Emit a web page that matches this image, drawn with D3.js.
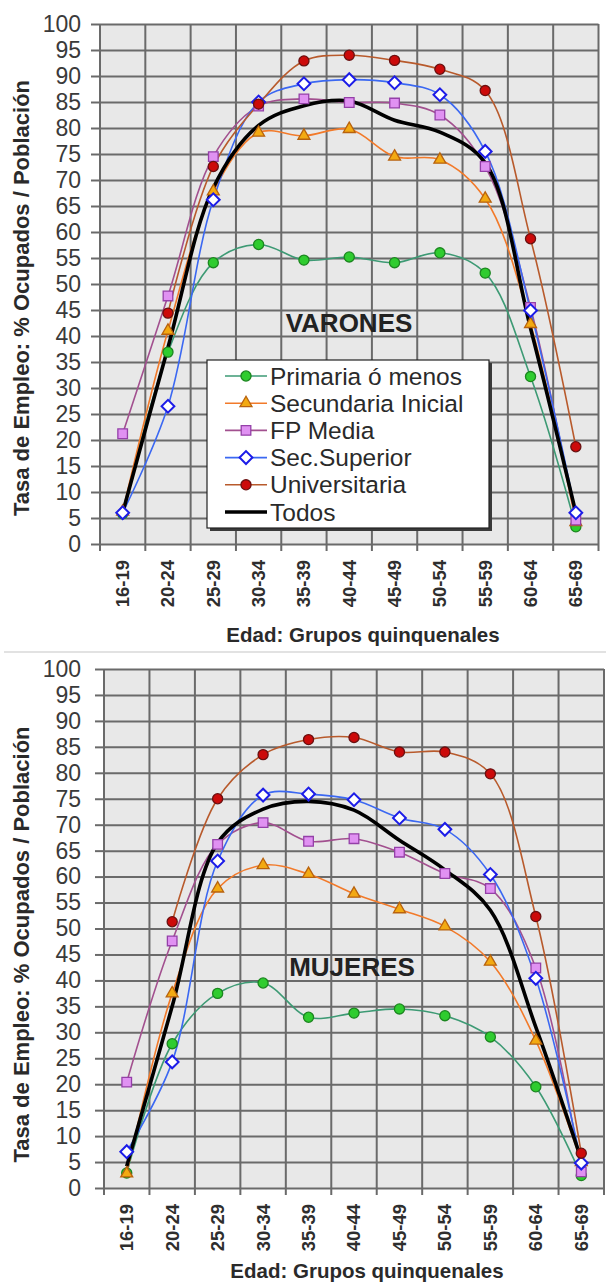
<!DOCTYPE html>
<html>
<head>
<meta charset="utf-8">
<script src="https://cdn.jsdelivr.net/npm/d3@7"></script>
<style>
    body { margin: 0; background: #fff; }
    svg { display: block; font-family: "Liberation Sans", Arial, sans-serif; }
</style>
</head>
<body>
<div id="chart"></div>
<script>

// categorias y valores
const edades = ["16-19", "20-24", "25-29", "30-34", "35-39", "40-44", "45-49", "50-54", "55-59", "60-64", "65-69"];
const yTicks = d3.range(0, 101, 5);
const leyenda = ["Primaria ó menos", "Secundaria Inicial", "FP Media", "Sec.Superior", "Universitaria", "Todos"];

// varones (Universitaria no tiene dato a los 16-19)
const varPrimaria   = [5.8, 36.9, 54.1, 57.6, 54.6, 55.2, 54.1, 56.0, 52.1, 32.2, 3.3];
const varSecundaria = [6.2, 41.0, 67.8, 79.1, 78.5, 79.8, 74.5, 73.9, 66.4, 42.3, 4.2];
const varFP         = [21.2, 47.7, 74.5, 84.2, 85.6, 84.9, 84.8, 82.5, 72.6, 45.5, 4.6];
const varSecSup     = [6.0, 26.5, 66.2, 85.0, 88.5, 89.3, 88.7, 86.4, 75.5, 44.9, 6.0];
const varUniv       = [null, 44.4, 72.6, 84.6, 92.9, 94.0, 93.0, 91.3, 87.2, 58.7, 18.7];
const varTodos      = [6.0, 37.8, 68.5, 80.5, 84.3, 85.2, 81.5, 79.2, 73.3, 41.5, 6.0];

// mujeres
const mujPrimaria   = [2.9, 27.8, 37.5, 39.5, 32.9, 33.7, 34.5, 33.2, 29.1, 19.5, 2.4];
const mujSecundaria = [2.8, 37.5, 57.7, 62.2, 60.5, 56.7, 53.7, 50.4, 43.6, 28.4, 5.0];
const mujFP         = [20.4, 47.6, 66.2, 70.4, 66.8, 67.3, 64.7, 60.6, 57.7, 42.4, 3.1];
const mujSecSup     = [7.0, 24.3, 63.0, 75.7, 75.9, 74.8, 71.3, 69.1, 60.4, 40.4, 4.8];
const mujUniv       = [null, 51.3, 75.0, 83.5, 86.4, 86.8, 84.0, 84.0, 79.8, 52.3, 6.7];
const mujTodos      = [4.2, 35.0, 66.5, 73.0, 74.5, 72.8, 67.0, 61.3, 53.5, 31.0, 5.5];

// estilo de cada serie (mismo orden que la leyenda)
const estilos = [
    {line: "#3d9a74", fill: "#2fcc2f", stroke: "#1b861f", shape: "circle"},
    {line: "#f27a2a", fill: "#f3aa12", stroke: "#b8620e", shape: "triangle"},
    {line: "#a2508f", fill: "#e091f2", stroke: "#9440a8", shape: "square"},
    {line: "#3b68f2", fill: "#ffffff", stroke: "#1c1ce8", shape: "diamond"},
    {line: "#b85a2c", fill: "#cc0a0a", stroke: "#6a1010", shape: "circle"},
    {line: "#000000", fill: "none",    stroke: "none",    shape: "none"}
];


class EmpleoChart {

    constructor(svg, cfg, series) {
        this.svg = svg;
        this.cfg = cfg;
        this.series = series;

        this.initVis();
    }

    initVis() {
        let vis = this;
        let c = vis.cfg;

        vis.g = vis.svg.append("g");

        vis.x = d3.scaleBand()
            .domain(edades)
            .range([c.left, c.right]);

        vis.y = d3.scaleLinear()
            .domain([0, 100])
            .range([c.bottom, c.top]);

        // fondo del area de trazado
        vis.g.append("rect")
            .attr("x", c.left)
            .attr("y", c.top)
            .attr("width", c.right - c.left)
            .attr("height", c.bottom - c.top)
            .attr("fill", "#e8e8e8");

        // rejilla horizontal
        vis.g.append("g")
            .attr("class", "grid")
            .attr("transform", `translate(${c.left},0)`)
            .call(d3.axisLeft(vis.y).tickValues(yTicks).tickSize(-(c.right - c.left)).tickFormat(""))
            .call(g => g.select(".domain").remove())
            .selectAll("line")
            .attr("stroke", "#6a6a6a")
            .attr("stroke-width", 2);

        // rejilla vertical en los limites de cada grupo
        let bordes = edades.map(d => vis.x(d)).concat([c.right]);
        vis.g.append("g")
            .selectAll("line")
            .data(bordes)
            .enter().append("line")
            .attr("x1", d => d).attr("x2", d => d)
            .attr("y1", c.top).attr("y2", c.bottom + 7)
            .attr("stroke", "#6a6a6a")
            .attr("stroke-width", 2);

        // eje y
        vis.g.append("g")
            .attr("class", "y-axis")
            .attr("transform", `translate(${c.left},0)`)
            .call(d3.axisLeft(vis.y).tickValues(yTicks).tickSize(9).tickPadding(c.left - 9 - 81))
            .call(g => g.select(".domain").remove())
            .call(g => g.selectAll("line").attr("stroke", "#6a6a6a").attr("stroke-width", 2))
            .selectAll("text")
            .attr("font-size", 23)
            .attr("fill", "#3a3a3a");

        // etiquetas del eje x, giradas
        vis.g.append("g")
            .selectAll("text")
            .data(edades)
            .enter().append("text")
            .attr("transform", d => `translate(${vis.x(d) + vis.x.bandwidth() / 2},${c.bottom + 16}) rotate(-90)`)
            .attr("dy", "0.35em")
            .attr("text-anchor", "end")
            .attr("font-size", 18.5)
            .attr("font-weight", "bold")
            .attr("fill", "#2e2e2e")
            .text(d => d);

        // titulos de los ejes
        vis.g.append("text")
            .attr("transform", `translate(${c.yTitleX},${c.yTitleY}) rotate(-90)`)
            .attr("dy", "0.35em")
            .attr("text-anchor", "middle")
            .attr("font-size", 22)
            .attr("font-weight", "bold")
            .attr("fill", "#2a2a2a")
            .text("Tasa de Empleo: % Ocupados / Población");

        vis.g.append("text")
            .attr("x", c.xTitleX)
            .attr("y", c.xTitleY)
            .attr("text-anchor", "middle")
            .attr("font-size", 20.5)
            .attr("font-weight", "bold")
            .attr("fill", "#2a2a2a")
            .text("Edad: Grupos quinquenales");

        // rotulo VARONES / MUJERES
        vis.g.append("text")
            .attr("x", c.labelX)
            .attr("y", vis.y(c.labelValue))
            .attr("dy", "0.35em")
            .attr("text-anchor", "middle")
            .attr("font-size", 26)
            .attr("font-weight", "bold")
            .attr("fill", "#222")
            .text(c.label);

        vis.updateVis();
    }

    symbolPath(shape) {
        if (shape === "circle") return d3.symbol(d3.symbolCircle, 80)();
        if (shape === "triangle") return d3.symbol(d3.symbolTriangle, 62)();
        if (shape === "square") return d3.symbol(d3.symbolSquare, 92)();
        if (shape === "diamond") return d3.symbol(d3.symbolSquare, 82)();
        return null;
    }

    updateVis() {
        let vis = this;
        let half = vis.x.bandwidth() / 2;

        let linea = d3.line()
            .defined(d => d !== null)
            .x((d, i) => vis.x(edades[i]) + half)
            .y(d => vis.y(d))
            .curve(d3.curveCatmullRom.alpha(0.5));

        // primero todas las lineas, despues los marcadores
        vis.g.append("g")
            .selectAll("path")
            .data(vis.series)
            .enter().append("path")
            .attr("fill", "none")
            .attr("stroke", (d, i) => estilos[i].line)
            .attr("stroke-width", (d, i) => i === 5 ? 3.6 : 1.6)
            .attr("d", d => linea(d));

        vis.series.forEach(function(valores, i) {
            let st = estilos[i];
            if (st.shape === "none") return;
            let puntos = valores.map((v, j) => ({edad: edades[j], v: v})).filter(p => p.v !== null);
            vis.g.append("g")
                .selectAll("path")
                .data(puntos)
                .enter().append("path")
                .attr("d", vis.symbolPath(st.shape))
                .attr("transform", p => `translate(${vis.x(p.edad) + half},${vis.y(p.v)})` + (st.shape === "diamond" ? " rotate(45)" : ""))
                .attr("fill", st.fill)
                .attr("stroke", st.stroke)
                .attr("stroke-width", st.shape === "diamond" ? 2 : 1.3);
        });

        if (vis.cfg.legend) vis.drawLegend();
    }

    drawLegend() {
        let vis = this;
        let L = vis.cfg.legend;

        let lg = vis.g.append("g")
            .attr("transform", `translate(${L.x},${L.y})`);

        lg.append("rect")
            .attr("x", 3).attr("y", 3)
            .attr("width", L.w).attr("height", L.h)
            .attr("fill", "#3a3a3a");
        lg.append("rect")
            .attr("width", L.w).attr("height", L.h)
            .attr("fill", "#fff")
            .attr("stroke", "#222")
            .attr("stroke-width", 1.2);

        let filas = lg.selectAll(".fila")
            .data(leyenda)
            .enter().append("g")
            .attr("class", "fila")
            .attr("transform", (d, i) => `translate(0,${16 + i * 27.2})`);

        filas.append("line")
            .attr("x1", 18).attr("x2", 60)
            .attr("stroke", (d, i) => estilos[i].line)
            .attr("stroke-width", (d, i) => i === 5 ? 3.6 : 1.6);

        filas.append("path")
            .attr("d", (d, i) => vis.symbolPath(estilos[i].shape))
            .attr("transform", (d, i) => `translate(39,0)` + (estilos[i].shape === "diamond" ? " rotate(45)" : ""))
            .attr("fill", (d, i) => estilos[i].fill)
            .attr("stroke", (d, i) => estilos[i].stroke)
            .attr("stroke-width", (d, i) => estilos[i].shape === "diamond" ? 2 : 1.3);

        filas.append("text")
            .attr("x", 63)
            .attr("dy", "0.35em")
            .attr("font-size", 24.5)
            .attr("fill", "#2a2a2a")
            .text(d => d);
    }
}


let svg = d3.select("#chart").append("svg")
    .attr("width", 606)
    .attr("height", 1283);

// separacion entre los dos graficos
svg.append("line")
    .attr("x1", 4).attr("x2", 606)
    .attr("y1", 652).attr("y2", 652)
    .attr("stroke", "#e2e2e2")
    .attr("stroke-width", 2);

new EmpleoChart(svg, {
    left: 100, right: 598.5, top: 24, bottom: 544,
    yTitleX: 21, yTitleY: 298,
    xTitleX: 363, xTitleY: 641.5,
    label: "VARONES", labelX: 349, labelValue: 42.5,
    legend: {x: 207, y: 360, w: 282, h: 168}
}, [varPrimaria, varSecundaria, varFP, varSecSup, varUniv, varTodos]);

new EmpleoChart(svg, {
    left: 104, right: 604, top: 669, bottom: 1188,
    yTitleX: 21, yTitleY: 944.5,
    xTitleX: 367, xTitleY: 1277.5,
    label: "MUJERES", labelX: 352, labelValue: 42.6,
    legend: null
}, [mujPrimaria, mujSecundaria, mujFP, mujSecSup, mujUniv, mujTodos]);

</script>
</body>
</html>
